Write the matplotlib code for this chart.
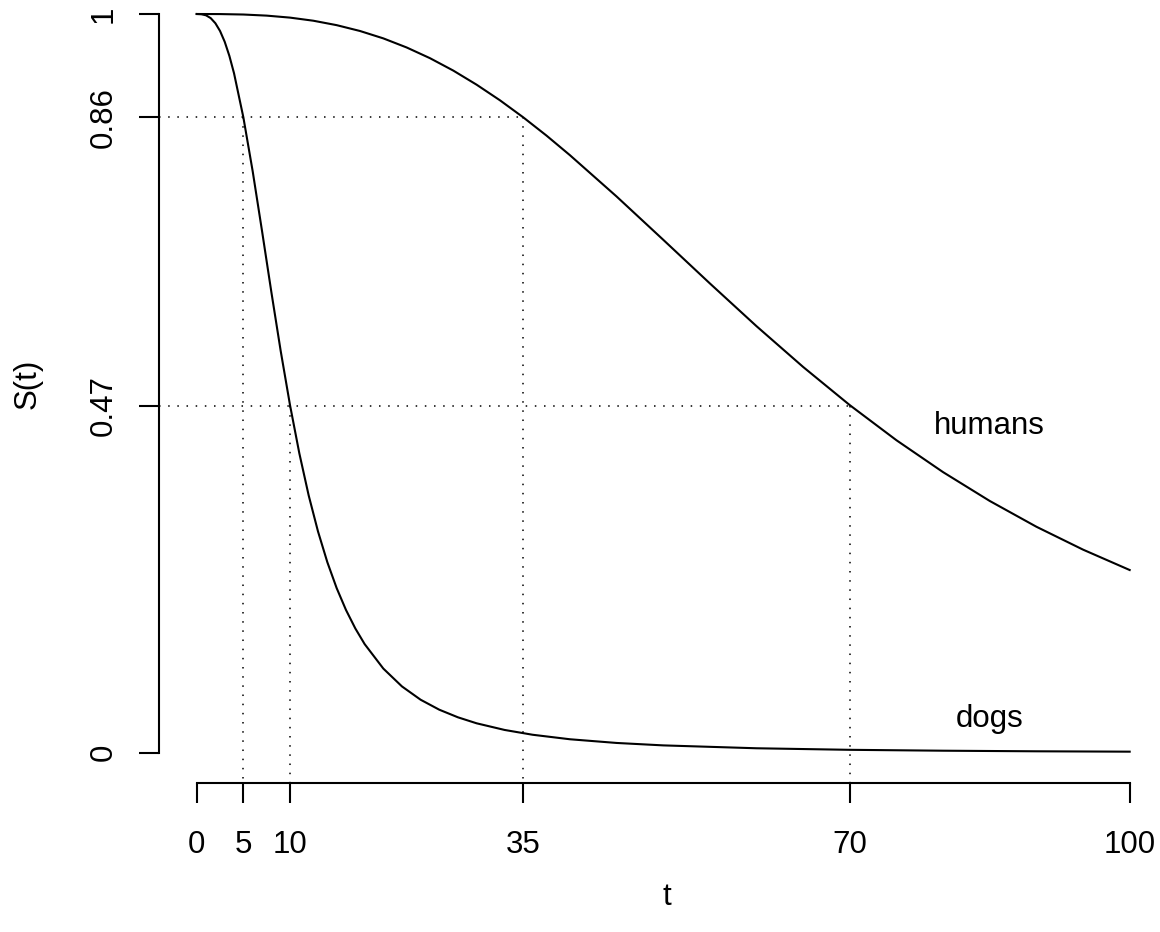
import matplotlib
matplotlib.use("Agg")
import matplotlib.pyplot as plt

plt.rcParams['font.family'] = ['Liberation Sans', 'DejaVu Sans']

# survival curves
t_humans = [0, 2.5, 5, 7.5, 10, 12.5, 15, 17.5, 20, 22.5, 25, 27.5, 30, 32.5, 35,
            37.5, 40, 45, 50, 55, 60, 65, 70, 75, 80, 85, 90, 95, 100]
s_humans = [1.0, 0.9999, 0.9993, 0.9978, 0.9951, 0.9909, 0.9849, 0.9770, 0.9670,
            0.9547, 0.9402, 0.9234, 0.9043, 0.8832, 0.8601, 0.8353, 0.8089, 0.7530,
            0.6944, 0.6353, 0.5774, 0.5222, 0.4705, 0.4230, 0.3798, 0.3408, 0.3059,
            0.2749, 0.2473]

t_dogs = [0, 0.5, 1, 1.5, 2, 2.5, 3, 3.5, 4, 5, 6, 7, 8, 9, 10, 11, 12, 13, 14, 15,
          16, 17, 18, 20, 22, 24, 26, 28, 30, 33, 36, 40, 45, 50, 60, 70, 80, 90, 100]
s_dogs = [1.0, 0.9997, 0.9982, 0.9944, 0.9875, 0.9770, 0.9624, 0.9433, 0.9197,
          0.8601, 0.7870, 0.7063, 0.6236, 0.5439, 0.4705, 0.4052, 0.3483, 0.2995,
          0.2579, 0.2228, 0.1932, 0.1682, 0.1470, 0.1139, 0.0897, 0.0717, 0.0582,
          0.0479, 0.0398, 0.0308, 0.0243, 0.0182, 0.0132, 0.0099, 0.0060, 0.0039,
          0.0027, 0.0019, 0.0014]

x_ticks = [0, 5, 10, 35, 70, 100]
y_ticks = [0, 0.47, 0.86, 1]
y_tick_labels = ["0", "0.47", "0.86", "1"]

# guide lines: survival level -> (time for dogs, time for humans)
guide_levels = [0.86, 0.47]
guide_dogs = [5, 10]
guide_humans = [35, 70]

fig = plt.figure(figsize=(11.6, 9.32), dpi=100)
ax = fig.add_axes([159.4 / 1160, (932 - 752.7) / 932, 1007.6 / 1160, 738.7 / 932])
ax.set_xlim(-4, 104)
ax.set_ylim(0, 1)

lw = 1.5
fs = 22.5

ax.plot(t_humans, s_humans, color='black', lw=lw, clip_on=False)
ax.plot(t_dogs, s_dogs, color='black', lw=lw, clip_on=False)

# dotted guides down to the offset x axis
axis_gap = 30 / 738.7
dots = (0, (1, 5))
for lev, td, th in zip(guide_levels, guide_dogs, guide_humans):
    ax.plot([-4, th], [lev, lev], color='black', lw=1.1, ls=dots, clip_on=False)
    ax.plot([td, td], [lev, -axis_gap], color='black', lw=1.1, ls=dots, clip_on=False)
    ax.plot([th, th], [lev, -axis_gap], color='black', lw=1.1, ls=dots, clip_on=False)

ax.text(85, 0.442, "humans", ha='center', va='center', fontsize=fs)
ax.text(85, 0.045, "dogs", ha='center', va='center', fontsize=fs)

# R style axes
for side in ['top', 'right']:
    ax.spines[side].set_visible(False)
ax.spines['bottom'].set_position(('outward', 30 * 0.72))
ax.spines['bottom'].set_bounds(0, 100)
ax.spines['left'].set_bounds(0, 1)
for side in ['bottom', 'left']:
    ax.spines[side].set_linewidth(lw)

ax.set_xticks(x_ticks)
ax.set_xticklabels([str(v) for v in x_ticks])
ax.set_yticks(y_ticks)
ax.set_yticklabels(y_tick_labels)
ax.tick_params(axis='both', length=20 * 0.72, width=lw, labelsize=fs, direction='out')
ax.tick_params(axis='x', pad=20)
ax.tick_params(axis='y', pad=15, labelrotation=90)
for lab in ax.get_yticklabels():
    lab.set_va('center')

fig.text(28 / 1160, (932 - 384) / 932, "S(t)", rotation=90, ha='center', va='center',
         fontsize=fs)
fig.text(667 / 1160, 35 / 932, "t", ha='center', va='center', fontsize=fs)

fig.savefig('out.png', dpi=100)
